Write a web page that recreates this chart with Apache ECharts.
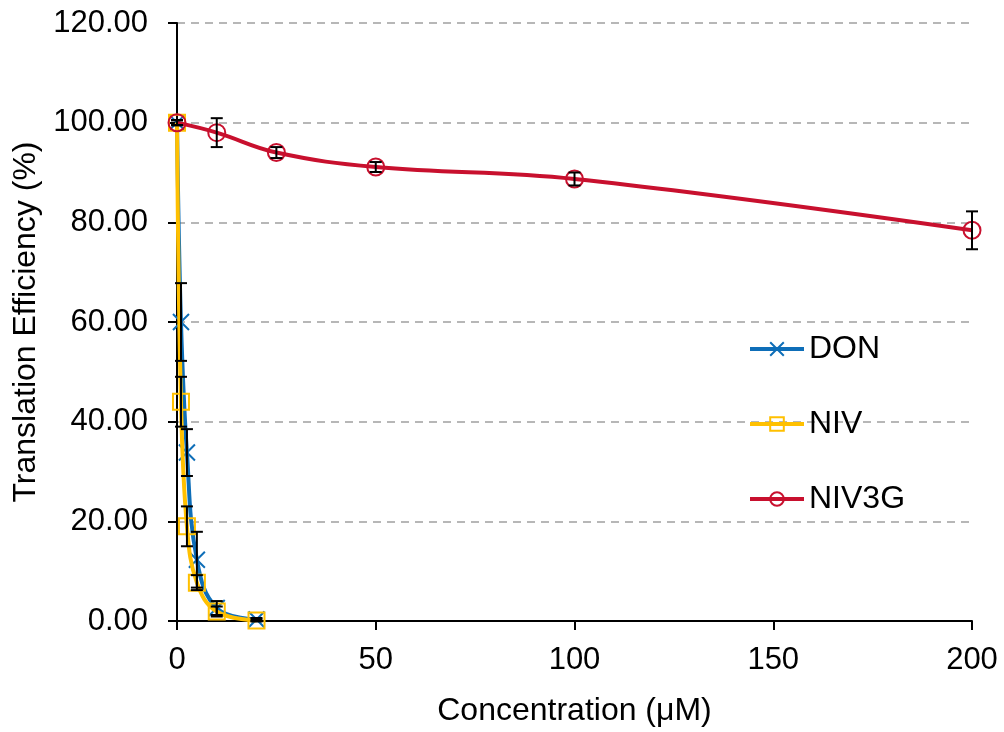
<!DOCTYPE html>
<html lang="en">
<head>
    <meta charset="UTF-8">
    <title>Translation efficiency</title>
    <script src="https://cdn.jsdelivr.net/npm/echarts@6/dist/echarts.min.js"></script>
</head>
<body style="margin:0;">
    <div id="main" style="width: 1004px;height: 732px;"></div>
<script>
    // concentrations (µM)
    var donConc = [0, 1, 2.5, 5, 10, 20];
    var donMean = [100, 60, 33.8, 12.3, 2.6, 0.3];
    var donErr = [0.5, 7.8, 4.7, 5.6, 1.4, 0.3];

    var nivConc = [0, 1, 2.5, 5, 10, 20];
    var nivMean = [100, 44, 19, 7.7, 1.9, 0.1];
    var nivErr = [0.5, 5, 4, 1.5, 1, 0.2];

    var niv3gConc = [0, 10, 25, 50, 100, 200];
    var niv3gMean = [100, 98, 94, 91.1, 88.7, 78.4];
    var niv3gErr = [0.5, 2.9, 1.1, 1, 1.3, 3.8];

    var seriesNames = ['DON', 'NIV', 'NIV3G'];
    var colors = ['#0E6EB8', '#FFC000', '#C8102E'];

    function pairs(xs, ys) {
        return xs.map(function (x, i) { return [x, ys[i]]; });
    }
    function errData(xs, ys, es) {
        return xs.map(function (x, i) { return [x, ys[i] - es[i], ys[i] + es[i]]; });
    }

    function renderErr(params, api) {
        var x = api.value(0);
        var lo = api.coord([x, api.value(1)]);
        var hi = api.coord([x, api.value(2)]);
        var w = 6;
        var st = { stroke: '#000', lineWidth: 2 };
        return {
            type: 'group',
            children: [
                { type: 'line', shape: { x1: hi[0], y1: hi[1], x2: lo[0], y2: lo[1] }, style: st },
                { type: 'line', shape: { x1: hi[0] - w, y1: hi[1], x2: hi[0] + w, y2: hi[1] }, style: st },
                { type: 'line', shape: { x1: lo[0] - w, y1: lo[1], x2: lo[0] + w, y2: lo[1] }, style: st }
            ]
        };
    }

    var crossPath = 'path://M0,0L10,10M10,0L0,10';
    var font = 'Liberation Sans, Arial, sans-serif';

    var myChart = echarts.init(document.getElementById('main'));
    myChart.setOption({
        animation: false,
        textStyle: { fontFamily: font },
        grid: { left: 177, right: 32, top: 23, bottom: 108 },
        legend: {
            data: seriesNames,
            orient: 'vertical',
            left: 748,
            top: 333,
            padding: 0,
            itemWidth: 54,
            itemHeight: 17,
            itemGap: 43,
            lineStyle: { width: 4 },
            textStyle: { fontSize: 32, color: '#000', fontFamily: font }
        },
        xAxis: {
            type: 'value',
            min: 0,
            max: 200,
            interval: 50,
            name: 'Concentration (μM)',
            nameLocation: 'middle',
            nameGap: 74,
            nameTextStyle: { fontSize: 32, color: '#000' },
            axisLine: { lineStyle: { color: '#000', width: 2 } },
            axisTick: { show: true, length: 9, lineStyle: { color: '#000', width: 2 } },
            axisLabel: { fontSize: 31, color: '#000', margin: 24 },
            splitLine: { show: false }
        },
        yAxis: {
            type: 'value',
            min: 0,
            max: 120,
            interval: 20,
            name: 'Translation Efficiency (%)',
            nameLocation: 'middle',
            nameGap: 132,
            nameTextStyle: { fontSize: 32, color: '#000' },
            axisLine: { show: true, onZero: false, lineStyle: { color: '#000', width: 2 } },
            axisTick: { show: true, length: 9, lineStyle: { color: '#000', width: 2 } },
            axisLabel: {
                fontSize: 31, color: '#000', margin: 29,
                formatter: function (v) { return v.toFixed(2); }
            },
            splitLine: { lineStyle: { color: '#A0A0A0', width: 1.5, type: [8, 6] } }
        },
        series: [
            {
                name: 'DON', type: 'line', smooth: 0.4,
                data: pairs(donConc, donMean),
                symbol: crossPath, symbolSize: 16,
                lineStyle: { color: colors[0], width: 4 },
                itemStyle: { color: colors[0], borderColor: colors[0], borderWidth: 2 },
                z: 3
            },
            {
                name: 'NIV', type: 'line', smooth: 0.4,
                data: pairs(nivConc, nivMean),
                symbol: 'rect', symbolSize: 16,
                lineStyle: { color: colors[1], width: 4 },
                itemStyle: { color: 'rgba(255,255,255,0)', borderColor: colors[1], borderWidth: 2 },
                z: 4
            },
            {
                name: 'NIV3G', type: 'line', smooth: 0.4,
                data: pairs(niv3gConc, niv3gMean),
                symbol: 'circle', symbolSize: 17,
                lineStyle: { color: colors[2], width: 4 },
                itemStyle: { color: 'rgba(255,255,255,0)', borderColor: colors[2], borderWidth: 2 },
                z: 5
            },
            { type: 'custom', renderItem: renderErr, data: errData(donConc, donMean, donErr), z: 6, silent: true },
            { type: 'custom', renderItem: renderErr, data: errData(nivConc, nivMean, nivErr), z: 6, silent: true },
            { type: 'custom', renderItem: renderErr, data: errData(niv3gConc, niv3gMean, niv3gErr), z: 6, silent: true }
        ]
    });
</script>
</body>
</html>
